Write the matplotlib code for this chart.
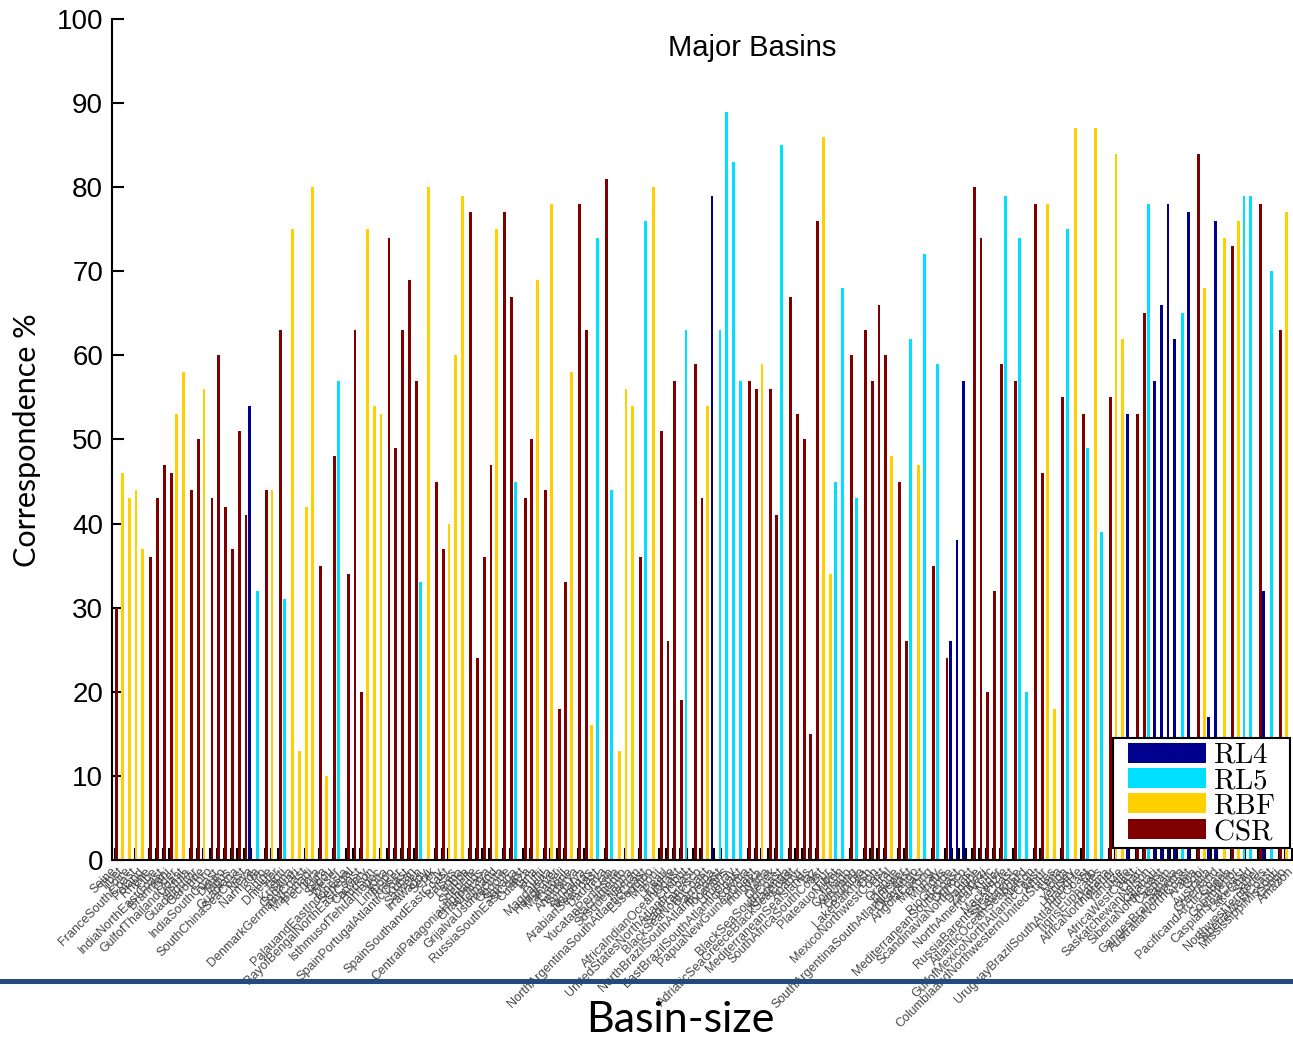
import matplotlib
matplotlib.use("Agg")
import matplotlib.pyplot as plt
from matplotlib.lines import Line2D
from matplotlib.patches import Rectangle
import numpy as np

plt.rcParams["font.family"] = ["Liberation Sans", "DejaVu Sans"]
plt.rcParams["mathtext.fontset"] = "cm"

methods = ["RL4", "RL5", "RBF", "CSR"]
method_colors = ["#00008f", "#00dfff", "#ffcf00", "#800000"]

# basins ordered by size, smallest first
basins = [
    "Seine", "Tibet", "Loire", "FranceSouthCoast", "Poland", "Rhone", "Elbe",
    "IndiaNorthEastCoast", "Brahmani", "Oder", "GulfofThailandCoast", "Vistula",
    "Guadalquivir", "Garonne", "Ebro", "IndiaSouthCoast", "Douro", "Tagus",
    "Guadiana", "SouthChinaSeaCoast", "Neva", "Narmada", "Po", "Rhine",
    "Dniester", "Tapti", "Krishna", "Godavari", "DenmarkGermanyCoast", "Mahanadi",
    "Pechora", "Kura", "Sebou", "Weser", "PalauandEastIndonesia", "Senegal",
    "BayofBengalNorthEastCoast", "Cauvery", "Hudson", "IsthmusofTehuantepec",
    "Volta", "Limpopo", "Fraser", "SpainPortugalAtlanticCoast", "Kuban", "Salween",
    "Irrawaddy", "Sepik", "Fly", "SpainSouthandEastCoast", "Balsas", "Lerma",
    "Jubba", "Shebelle", "CentralPatagoniaHighlands", "ChaoPhraya", "Helmand",
    "GrijalvaUsumacinta", "Ogooue", "Sanaga", "RussiaSouthEastCoast", "Cuanza",
    "Tana", "Rufiji", "Magdalena", "HongRiver", "Mahaweli", "Cunene", "Amudarya",
    "Syrdarya", "Nemunas", "ArabianSeaCoast", "Daugava", "Liao", "YucatanPeninsula",
    "Sacramento", "Susquehanna", "Neman", "NorthArgentinaSouthAtlanticCoast",
    "Essequibo", "Maroni", "Pearl", "HuaiHe", "AfricaIndianOceanCoast", "Chubut",
    "UnitedStatesNorthAtlanticCoast", "SaoFrancisco", "BlackSeaNorthCoast",
    "Parnaiba", "NorthBrazilSouthAtlanticCoast", "Tocantins", "Uruguay",
    "EastBrazilSouthAtlanticCoast", "Kolyma", "PapuaNewGuineaCoast", "Indigirka",
    "Yana", "Olenek", "BlackSeaSouthCoast", "Khatanga",
    "AdriaticSeaGreeceBlackSeaCoast", "Anadyr", "MediterraneanSeaIslands", "Taz",
    "SouthAfricaSouthCoast", "Pur", "PlateauofTibet", "Yukon", "Colorado",
    "XunJiang", "Columbia", "LakeBalkhash", "Don", "MexicoNorthwestCoast", "Ural",
    "Orange", "Dnieper", "SouthArgentinaSouthAtlanticCoast", "Okavango",
    "AngolaCoast", "Mekong", "Murray", "Indus", "RioGrande",
    "MediterraneanSouthCoast", "Orinoco", "ScandinaviaNorthCoast", "Danube",
    "Zambezi", "NorthAmericaArctic", "Niger", "Mackenzie", "RussiaBarentsSeaCoast",
    "StLawrence", "AtlanticOceanSeaboard", "Nelson", "GulfofMexicoNorthAtlanticCoast",
    "Amur", "ColumbiaandNorthwesternUnitedStates", "Lena", "Volga", "Yenisey",
    "HuangHe", "UruguayBrazilSouthAtlanticCoast", "Ob", "TigrisEuphrates", "Parana",
    "AfricaNorthInterior", "Yangtze", "Nile", "AfricaWestCoast", "Chari",
    "SaskatchewanNelson", "Kalahari", "SiberiaNorthCoast", "Caspian", "Sahara",
    "GangesBrahmaputra", "AustraliaNorthCoast", "Arabia", "Gobi", "Australia",
    "Greenland", "PacificandArcticCoast", "Siberia", "GobiInterior",
    "CaspianSeaCoast", "LakeChad", "Sahel", "NorthwestTerritories",
    "SiberiaWestCoast", "MississippiMissouri", "Congo", "Amazon",
]

# method with the highest correspondence for each basin
best_method = [
    "CSR", "RBF", "RBF", "RBF", "RBF", "CSR", "CSR", "CSR", "CSR", "RBF",
    "RBF", "CSR", "CSR", "RBF", "CSR", "CSR", "CSR", "CSR", "CSR", "CSR",
    "RL4", "RL5", "CSR", "RBF", "CSR", "RL5", "RBF", "RBF", "RBF", "RBF",
    "CSR", "RBF", "CSR", "RL5", "CSR", "CSR", "CSR", "RBF", "RBF", "RBF",
    "CSR", "CSR", "CSR", "CSR", "CSR", "RL5", "RBF", "CSR", "CSR", "RBF",
    "RBF", "RBF", "CSR", "CSR", "CSR", "CSR", "RBF", "CSR", "CSR", "RL5",
    "CSR", "CSR", "RBF", "CSR", "RBF", "CSR", "CSR", "RBF", "CSR", "CSR",
    "RBF", "RL5", "CSR", "RL5", "RBF", "RBF", "RBF", "CSR", "RL5", "RBF",
    "CSR", "CSR", "CSR", "CSR", "RL5", "CSR", "CSR", "RBF", "RL4", "RL5",
    "RL5", "RL5", "RL5", "CSR", "CSR", "RBF", "CSR", "CSR", "RL5", "CSR",
    "CSR", "CSR", "CSR", "CSR", "RBF", "RBF", "RL5", "RL5", "CSR", "RL5",
    "CSR", "CSR", "CSR", "CSR", "RBF", "CSR", "CSR", "RL5", "RBF", "RL5",
    "CSR", "RL5", "CSR", "RL4", "RL4", "RL4", "CSR", "CSR", "CSR", "CSR",
    "CSR", "RL5", "CSR", "RL5", "RL5", "CSR", "CSR", "RBF", "RBF", "CSR",
    "RL5", "RBF", "CSR", "RL5", "RBF", "RL5", "CSR", "RBF", "RBF", "RL4",
    "CSR", "CSR", "RL5", "RL4", "RL4", "RL4", "RL4", "RL5", "RL4", "CSR",
    "RBF", "RL4", "RL4", "RBF", "CSR", "RBF", "RL5", "RL5", "CSR", "RL4",
    "RL5", "CSR", "RBF", "CSR",
]

# correspondence (%) of that method
best_value = [
    30, 46, 43, 44, 37, 36, 43, 47, 46, 53,
    58, 44, 50, 56, 43, 60, 42, 37, 51, 41,
    54, 32, 44, 44, 63, 31, 75, 13, 42, 80,
    35, 10, 48, 57, 34, 63, 20, 75, 54, 53,
    74, 49, 63, 69, 57, 33, 80, 45, 37, 40,
    60, 79, 77, 24, 36, 47, 75, 77, 67, 45,
    43, 50, 69, 44, 78, 18, 33, 58, 78, 63,
    16, 74, 81, 44, 13, 56, 54, 36, 76, 80,
    51, 26, 57, 19, 63, 59, 43, 54, 79, 63,
    89, 83, 57, 57, 56, 59, 56, 41, 85, 67,
    53, 50, 15, 76, 86, 34, 45, 68, 60, 43,
    63, 57, 66, 60, 48, 45, 26, 62, 47, 72,
    35, 59, 24, 26, 38, 57, 80, 74, 20, 32,
    59, 79, 57, 74, 20, 78, 46, 78, 18, 55,
    75, 87, 53, 49, 87, 39, 55, 84, 62, 53,
    53, 65, 78, 57, 66, 78, 62, 65, 77, 84,
    68, 17, 76, 74, 73, 76, 79, 79, 78, 32,
    70, 63, 77, 60,
]

W, H = 1293, 1038
fig = plt.figure(figsize=(W / 100, H / 100), dpi=100)
fig.patch.set_facecolor("white")

ax = fig.add_axes([111.5 / W, 1 - 860 / H, (1295.7 - 111.5) / W, (860 - 19) / H])

n = len(basins)
pos = np.arange(1, n + 1)
vals = np.array(best_value, dtype=float)
slot = 0.18  # offset between grouped bars
for k, (name, color) in enumerate(zip(methods, method_colors)):
    sel = np.array([m == name for m in best_method])
    ax.bar(pos[sel] + (k - 1.5) * slot, vals[sel], width=0.42, color=color,
           linewidth=0, zorder=2, label=rf"$\mathrm{{{name}}}$")

ax.set_xlim(0.5, n + 0.5)
ax.set_ylim(0, 100)
ax.set_yticks(np.arange(0, 101, 10))
ax.set_xticks(pos)
ax.set_xticklabels(basins, rotation=45, ha="right", va="center",
                   rotation_mode="anchor", fontsize=9, color="#454545")
ax.set_axisbelow(True)
for side in ("top", "right"):
    ax.spines[side].set_visible(False)
for side in ("left", "bottom"):
    ax.spines[side].set_linewidth(1.5)
ax.tick_params(axis="both", direction="in", length=8.6, width=1.5)
ax.tick_params(axis="y", labelsize=20, pad=6)
ax.tick_params(axis="x", pad=7)

# legend box drawn separately so its padding can be tight
box_l, box_r, box_t, box_b = 1113, 1290, 738, 848
ax.add_patch(Rectangle((box_l / W, 1 - box_b / H), (box_r - box_l) / W,
                       (box_b - box_t) / H, transform=fig.transFigure,
                       facecolor="white", edgecolor="black", linewidth=1.5,
                       zorder=4, clip_on=False))
leg = ax.legend(loc="center",
                bbox_to_anchor=((box_l + box_r) / 2 / W,
                                1 - (box_t + box_b) / 2 / H),
                bbox_transform=fig.transFigure, borderaxespad=0, borderpad=0,
                fontsize=21, handlelength=2.65, handleheight=0.68,
                handletextpad=0.25, labelspacing=-0.09, frameon=False)
leg.set_zorder(5)

fig.text(752 / W, 1 - 48 / H, "Major Basins", ha="center", va="center", fontsize=21)
fig.text(27 / W, 1 - 440 / H, "Correspondence %", rotation=90, ha="center",
         va="center", fontsize=22, family=["Lato", "DejaVu Sans"])

# slide footer: divider and axis caption
fig.add_artist(Line2D([0, 1], [1 - 980.5 / H] * 2, color="#244a7d", linewidth=3.6))
fig.text(680 / W, 1 - 1020 / H, "Basin-size", ha="center", va="center",
         fontsize=31, family=["Lato", "DejaVu Sans"])

fig.savefig("out.png", dpi=100)
